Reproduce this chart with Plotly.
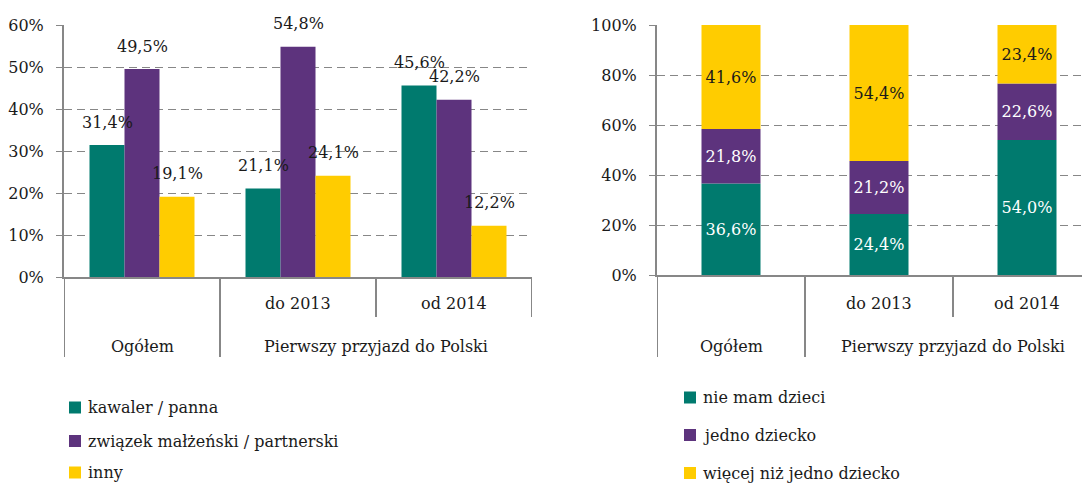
import plotly.graph_objects as go
import numpy as np

# ---------------- data ----------------
categories = ["Ogółem", "do 2013", "od 2014"]
outer_labels = ["Ogółem", "Pierwszy przyjazd do Polski"]

# left chart: marital status
left_series = ["kawaler / panna", "związek małżeński / partnerski", "inny"]
left_kawaler = [31.4, 21.1, 45.6]
left_zwiazek = [49.5, 54.8, 42.2]
left_inny = [19.1, 24.1, 12.2]

# right chart: children
right_series = ["nie mam dzieci", "jedno dziecko", "więcej niż jedno dziecko"]
right_brak = [36.6, 24.4, 54.0]
right_jedno = [21.8, 21.2, 22.6]
right_wiecej = [41.6, 54.4, 23.4]

left_ticks = [0, 10, 20, 30, 40, 50, 60]
right_ticks = [0, 20, 40, 60, 80, 100]

# ---------------- style ----------------
COLORS = ["#007A6E", "#5D337D", "#FFCC00"]
FONT = "DejaVu Serif"
FS = 16
TXT = "#1a1a1a"
GRAY = "#878787"
W, H = 1090, 483
OFF = 8  # page body margin: screen position = figure position + OFF


def fmt(v):
    return f"{v:.1f}%".replace(".", ",")


def px_y(p):
    return 1 - (p - OFF) / H


def px_x(p):
    return (p - OFF) / W


fig = go.Figure()
annotations = []
shapes = []

# left grouped bars
bw = 35 / 156
xs = np.arange(len(categories))
left_vals = [left_kawaler, left_zwiazek, left_inny]
for j, (name, vals) in enumerate(zip(left_series, left_vals)):
    xpos = xs + (j - 1) * bw
    fig.add_trace(go.Bar(
        x=xpos, y=vals, width=bw, name=name, marker_color=COLORS[j],
        marker_line_width=0, xaxis="x", yaxis="y", hoverinfo="skip",
        showlegend=False))
    for xv, v in zip(xpos, vals):
        annotations.append(dict(x=xv, y=v, xref="x", yref="y", text=fmt(v),
                                showarrow=False, yshift=23, yanchor="middle",
                                font=dict(family=FONT, size=FS, color=TXT)))

# right stacked bars
rw = 59 / 148
right_vals = [right_brak, right_jedno, right_wiecej]
bases = np.cumsum([[0] * 3] + right_vals[:-1], axis=0)
txt_colors = ["white", "white", TXT]
for j, (name, vals) in enumerate(zip(right_series, right_vals)):
    fig.add_trace(go.Bar(
        x=xs, y=vals, base=bases[j], width=rw, name=name,
        marker_color=COLORS[j], marker_line_width=0,
        text=[fmt(v) for v in vals], textposition="inside",
        insidetextanchor="middle", constraintext="none",
        textfont=dict(family=FONT, size=FS, color=txt_colors[j]),
        xaxis="x2", yaxis="y2", hoverinfo="skip", showlegend=False))

# category axis labels & separators
zero_px = {"x": 277, "x2": 275}
for xref in ["x", "x2"]:
    for i, c in enumerate(categories[1:], start=1):
        annotations.append(dict(x=i, y=px_y(303), xref=xref, yref="paper",
                                text=c, showarrow=False, yanchor="middle",
                                font=dict(family=FONT, size=FS, color=TXT)))
    annotations.append(dict(x=0, y=px_y(346), xref=xref, yref="paper",
                            text=outer_labels[0], showarrow=False, yanchor="middle",
                            font=dict(family=FONT, size=FS, color=TXT)))
    annotations.append(dict(x=1.5, y=px_y(346), xref=xref, yref="paper",
                            text=outer_labels[1], showarrow=False, yanchor="middle",
                            font=dict(family=FONT, size=FS, color=TXT)))
    z = zero_px[xref]
    for xb, bottom in [(-0.5, 357), (0.5, 357), (1.5, 317), (2.5, 317)]:
        shapes.append(dict(type="line", xref=xref, yref="paper", x0=xb, x1=xb,
                           y0=px_y(z), y1=px_y(bottom),
                           line=dict(color=GRAY, width=2)))

# legends (drawn as squares + labels)
legend_specs = [
    (left_series, 69, 86, [407.5, 441, 472.5]),
    (right_series, 684, 701, [397.5, 435, 473]),
]
for names, sq_x, tx_x, ys in legend_specs:
    for j, (name, yc) in enumerate(zip(names, ys)):
        shapes.append(dict(type="rect", xref="paper", yref="paper",
                           x0=px_x(sq_x), x1=px_x(sq_x + 12),
                           y0=px_y(yc + 6), y1=px_y(yc - 6),
                           fillcolor=COLORS[j], line=dict(width=0)))
        annotations.append(dict(x=px_x(tx_x), y=px_y(yc), xref="paper", yref="paper",
                                text=name, showarrow=False, xanchor="left",
                                yanchor="middle",
                                font=dict(family=FONT, size=FS, color=TXT)))

axis_font = dict(family=FONT, size=FS, color=TXT)
yax_common = dict(showgrid=True, gridcolor=GRAY, griddash="8px,5px", gridwidth=1,
                  showline=True, linecolor=GRAY, linewidth=2, ticks="outside",
                  ticklen=6, tickcolor=GRAY, tickwidth=1,
                  tickfont=axis_font, zeroline=False, ticklabelstandoff=9,
                  automargin=False)
xax_common = dict(showgrid=False, zeroline=False, showticklabels=False,
                  showline=True, linecolor=GRAY, linewidth=2, ticks="",
                  automargin=False)

fig.update_layout(
    width=W, height=H, margin=dict(l=0, r=0, t=0, b=0),
    paper_bgcolor="white", plot_bgcolor="white",
    barmode="overlay", showlegend=False,
    font=dict(family=FONT, size=FS, color=TXT),
    xaxis=dict(domain=[px_x(64), px_x(532)], range=[-0.5, 2.5], anchor="y",
               **xax_common),
    yaxis=dict(domain=[px_y(277), px_y(25)], range=[0, 60], tickvals=left_ticks,
               ticktext=[f"{t}%" for t in left_ticks], anchor="x", **yax_common),
    xaxis2=dict(domain=[px_x(657), 1.0], range=[-0.5, -0.5 + (W + OFF - 657) / 148],
                anchor="y2", **xax_common),
    yaxis2=dict(domain=[px_y(275), px_y(25)], range=[0, 100], tickvals=right_ticks,
                ticktext=[f"{t}%" for t in right_ticks], anchor="x2", **yax_common),
    annotations=annotations, shapes=shapes,
)

fig.write_html("out.html")
